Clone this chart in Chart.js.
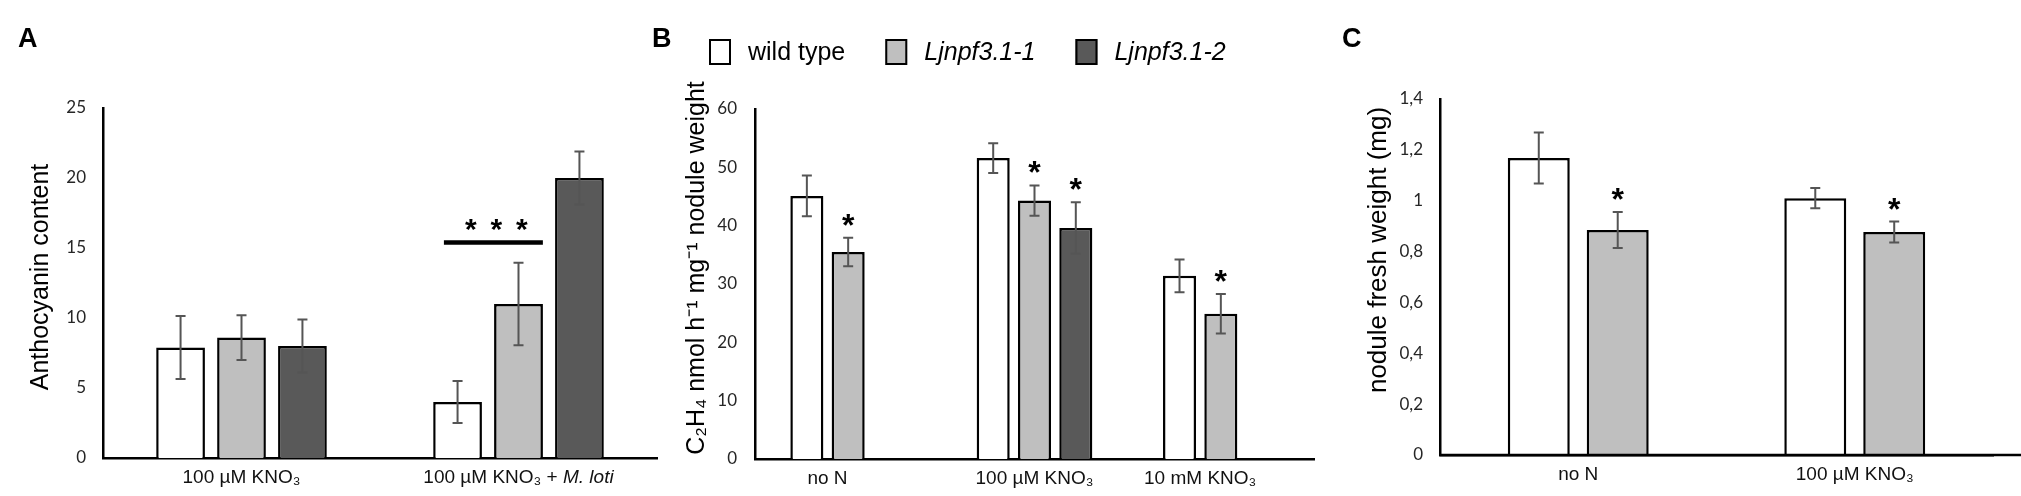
<!DOCTYPE html>
<html>
<head>
<meta charset="utf-8">
<script src="https://cdn.jsdelivr.net/npm/chart.js@4.4.1/dist/chart.umd.min.js"></script>
<style>
  html, body { margin: 0; padding: 0; background: #fff; }
  #wrap { position: relative; width: 2021px; height: 496px; overflow: hidden; }
  canvas { position: absolute; top: 0; }
</style>
</head>
<body>
<div id="wrap">
  <canvas id="chartA" width="680" height="496" style="left:0px"></canvas>
  <canvas id="chartB" width="690" height="496" style="left:640px"></canvas>
  <canvas id="chartC" width="691" height="496" style="left:1330px"></canvas>
</div>
<script>
// ================= DATA =================
const seriesNames = ["wild type", "Ljnpf3.1-1", "Ljnpf3.1-2"];
const italicTerms = ["M. loti", "Ljnpf3.1-1", "Ljnpf3.1-2"];

// panel A - anthocyanin
const categoriesA = ["100 µM KNO₃", "100 µM KNO₃ + M. loti"];
const wildTypeA = [7.9, 4.0];
const ljnpf1A = [8.6, 11.0];
const ljnpf2A = [8.0, 20.0];
const wildTypeErrA = [2.25, 1.5];
const ljnpf1ErrA = [1.6, 2.95];
const ljnpf2ErrA = [1.9, 1.9];
const ticksA = [0, 5, 10, 15, 20, 25];
const bracketA = { category: 1, from: 0, to: 1, value: 15.4, label: "* * *" };

// panel B - nitrogenase activity
const categoriesB = ["no N", "100 µM KNO₃", "10 mM KNO₃"];
const wildTypeB = [45.1, 51.6, 31.4];
const ljnpf1B = [35.5, 44.3, 24.9];
const ljnpf2B = [null, 39.6, null];
const wildTypeErrB = [3.5, 2.55, 2.8];
const ljnpf1ErrB = [2.45, 2.6, 3.4];
const ljnpf2ErrB = [null, 4.4, null];
const starsLjnpf1B = [true, true, true];
const starsLjnpf2B = [false, true, false];
const ticksB = [0, 10, 20, 30, 40, 50, 60];

// panel C - nodule fresh weight
const categoriesC = ["no N", "100 µM KNO₃"];
const wildTypeC = [1.168, 1.01];
const ljnpf1C = [0.885, 0.877];
const wildTypeErrC = [0.1, 0.04];
const ljnpf1ErrC = [0.071, 0.041];
const starsLjnpf1C = [true, true];
const ticksC = [0, 0.2, 0.4, 0.6, 0.8, 1, 1.2, 1.4];

const fillColors = ["#ffffff", "#bfbfbf", "#595959"];
const SANS = "'Liberation Sans', Arial, sans-serif";


// ================= HELPERS =================
function segments(text) {
    for (const t of italicTerms) {
        const k = text.indexOf(t);
        if (k >= 0) {
            return [[text.slice(0, k), false], [t, true], [text.slice(k + t.length), false]]
                .filter(s => s[0].length);
        }
    }
    return [[text, false]];
}

function drawRich(ctx, text, x, y, size, align) {
    const segs = segments(text);
    const fontOf = it => (it ? "italic " : "") + size + "px " + SANS;
    let total = 0;
    segs.forEach(s => { ctx.font = fontOf(s[1]); total += ctx.measureText(s[0]).width; });
    let cx = align === "left" ? x : x - total / 2;
    ctx.textAlign = "left";
    segs.forEach(s => {
        ctx.font = fontOf(s[1]);
        ctx.fillText(s[0], cx, y);
        cx += ctx.measureText(s[0]).width;
    });
    return total;
}

function drawStar(ctx, x, y, size) {
    ctx.font = "bold " + size + "px " + SANS;
    ctx.textAlign = "center";
    ctx.textBaseline = "alphabetic";
    const m = ctx.measureText("*");
    ctx.fillText("*", x, y + (m.actualBoundingBoxAscent - m.actualBoundingBoxDescent) / 2);
}


// ================= PLUGIN =================
const figurePlugin = {
    id: "figure",
    afterDatasetsDraw(chart, args, opts) {
        const ctx = chart.ctx;
        const ys = chart.scales.y;
        ctx.save();

        // error bars + stars
        chart.data.datasets.forEach((ds, i) => {
            const meta = chart.getDatasetMeta(i);
            meta.data.forEach((bar, j) => {
                const v = ds.data[j];
                if (v == null) return;
                const e = ds.errors[j] || 0;
                const top = ys.getPixelForValue(v + e);
                const bot = ys.getPixelForValue(v - e);
                ctx.strokeStyle = "#555555";
                ctx.lineWidth = 2;
                ctx.beginPath();
                ctx.moveTo(bar.x, top); ctx.lineTo(bar.x, bot);
                ctx.moveTo(bar.x - 5, top); ctx.lineTo(bar.x + 5, top);
                ctx.moveTo(bar.x - 5, bot); ctx.lineTo(bar.x + 5, bot);
                ctx.stroke();
                if (ds.stars && ds.stars[j]) {
                    ctx.fillStyle = "#000";
                    drawStar(ctx, bar.x, top - 18, 32);
                }
            });
        });

        // significance bracket
        if (opts.bracket) {
            const b = opts.bracket;
            const p = chart.getDatasetMeta(b.from).data[b.category];
            const q = chart.getDatasetMeta(b.to).data[b.category];
            const x1 = p.x - p.width * 0.28;
            const x2 = q.x + q.width / 2;
            const yy = ys.getPixelForValue(b.value);
            ctx.strokeStyle = "#000";
            ctx.lineWidth = 4.5;
            ctx.beginPath();
            ctx.moveTo(x1, yy); ctx.lineTo(x2, yy);
            ctx.stroke();
            const stars = b.label.split(" ");
            const mid = (x1 + x2) / 2 + 3;
            ctx.fillStyle = "#000";
            stars.forEach((s, k) => drawStar(ctx, mid + (k - (stars.length - 1) / 2) * 25.5, yy - 17, 30));
        }
        ctx.restore();
    },

    afterDraw(chart, args, opts) {
        const ctx = chart.ctx;
        const area = chart.chartArea;
        ctx.save();
        ctx.fillStyle = "#111";
        ctx.textBaseline = "middle";

        // category labels, centred under the bars actually drawn
        chart.data.labels.forEach((lab, j) => {
            let lo = Infinity, hi = -Infinity;
            chart.data.datasets.forEach((ds, i) => {
                if (ds.data[j] == null) return;
                const bar = chart.getDatasetMeta(i).data[j];
                lo = Math.min(lo, bar.x - bar.width / 2);
                hi = Math.max(hi, bar.x + bar.width / 2);
            });
            drawRich(ctx, lab, (lo + hi) / 2, area.bottom + 20, 19, "center");
        });

        // x axis line carried on to the canvas edge
        if (opts.extendAxis) {
            ctx.strokeStyle = "#000";
            ctx.lineWidth = 2.5;
            ctx.beginPath();
            ctx.moveTo(area.left, area.bottom);
            ctx.lineTo(chart.width, area.bottom);
            ctx.stroke();
        }

        // y axis title
        const t = opts.yTitle;
        ctx.save();
        ctx.translate(t.x, t.y);
        ctx.rotate(-Math.PI / 2);
        ctx.fillStyle = "#000";
        ctx.font = t.size + "px " + SANS;
        ctx.textAlign = "center";
        ctx.fillText(t.text, 0, 0);
        ctx.restore();

        // panel letter
        ctx.fillStyle = "#000";
        ctx.font = "bold 27px " + SANS;
        ctx.textAlign = "left";
        ctx.textBaseline = "alphabetic";
        ctx.fillText(opts.letter.text, opts.letter.x, opts.letter.y);

        // legend
        if (opts.legend) {
            let x = opts.legend.x;
            const y = opts.legend.y;
            ctx.textBaseline = "middle";
            chart.data.datasets.forEach(ds => {
                ctx.fillStyle = ds.backgroundColor;
                ctx.fillRect(x, y, 22, 26);
                ctx.strokeStyle = "#000";
                ctx.lineWidth = 2;
                ctx.strokeRect(x + 1, y + 1, 20, 24);
                ctx.fillStyle = "#000";
                const tx = x + 39;
                const w = drawRich(ctx, ds.label, tx, y + 14, 25, "left");
                x = tx + w + 40;
            });
        }
        ctx.restore();
    }
};


// ================= CHARTS =================
function makeChart(id, cfg) {
    const datasets = cfg.series.map((s, i) => ({
        label: seriesNames[i],
        data: s.data,
        errors: s.errors,
        stars: s.stars,
        backgroundColor: fillColors[i],
        borderColor: "#000",
        borderWidth: 2.5,
        barPercentage: cfg.barPct,
        categoryPercentage: cfg.catPct
    }));

    return new Chart(document.getElementById(id), {
        type: "bar",
        data: { labels: cfg.categories, datasets: datasets },
        plugins: [figurePlugin],
        options: {
            responsive: false,
            animation: false,
            devicePixelRatio: 1,
            layout: { padding: { left: 0, right: cfg.padRight, top: cfg.padTop, bottom: 0 } },
            plugins: {
                legend: { display: false },
                tooltip: { enabled: false },
                figure: cfg.figure
            },
            scales: {
                x: {
                    type: "category",
                    offset: true,
                    grid: { display: false, drawTicks: false },
                    border: { display: true, color: "#000", width: 2.5 },
                    ticks: { display: false },
                    afterFit: s => { s.height = cfg.xHeight; }
                },
                y: {
                    min: cfg.ticks[0],
                    max: cfg.ticks[cfg.ticks.length - 1],
                    afterBuildTicks: s => { s.ticks = cfg.ticks.map(v => ({ value: v })); },
                    afterFit: s => { s.width = cfg.yWidth; },
                    grid: { display: false, drawTicks: false },
                    border: { display: true, color: "#000", width: 2.5 },
                    ticks: {
                        padding: cfg.tickPad,
                        color: "#262626",
                        font: { family: "Lato", size: 17 },
                        callback: v => String(v).replace(".", cfg.decimal || ".")
                    }
                }
            }
        }
    });
}

makeChart("chartA", {
    categories: categoriesA,
    series: [
        { data: wildTypeA, errors: wildTypeErrA },
        { data: ljnpf1A, errors: ljnpf1ErrA },
        { data: ljnpf2A, errors: ljnpf2ErrA }
    ],
    ticks: ticksA,
    barPct: 0.8, catPct: 0.66,
    yWidth: 103, xHeight: 38, padTop: 108, padRight: 23, tickPad: 17,
    figure: {
        bracket: bracketA,
        yTitle: { text: "Anthocyanin content", x: 41, y: 277, size: 25 },
        letter: { text: "A", x: 18, y: 47 }
    }
});

makeChart("chartB", {
    categories: categoriesB,
    series: [
        { data: wildTypeB, errors: wildTypeErrB },
        { data: ljnpf1B, errors: ljnpf1ErrB, stars: starsLjnpf1B },
        { data: ljnpf2B, errors: ljnpf2ErrB, stars: starsLjnpf2B }
    ],
    ticks: ticksB,
    barPct: 0.8, catPct: 0.665,
    yWidth: 115, xHeight: 37, padTop: 109, padRight: 16, tickPad: 18,
    figure: {
        yTitle: { text: "C₂H₄ nmol h⁻¹ mg⁻¹ nodule weight", x: 57, y: 268, size: 25 },
        letter: { text: "B", x: 12, y: 47 },
        legend: { x: 69, y: 39 }
    }
});

makeChart("chartC", {
    categories: categoriesC,
    series: [
        { data: wildTypeC, errors: wildTypeErrC },
        { data: ljnpf1C, errors: ljnpf1ErrC, stars: starsLjnpf1C }
    ],
    ticks: ticksC,
    barPct: 0.785, catPct: 0.571,
    yWidth: 110, xHeight: 41, padTop: 99, padRight: 28, tickPad: 17,
    decimal: ",",
    figure: {
        yTitle: { text: "nodule fresh weight (mg)", x: 49, y: 250, size: 26 },
        letter: { text: "C", x: 12, y: 47 },
        extendAxis: true
    }
});
</script>
</body>
</html>
